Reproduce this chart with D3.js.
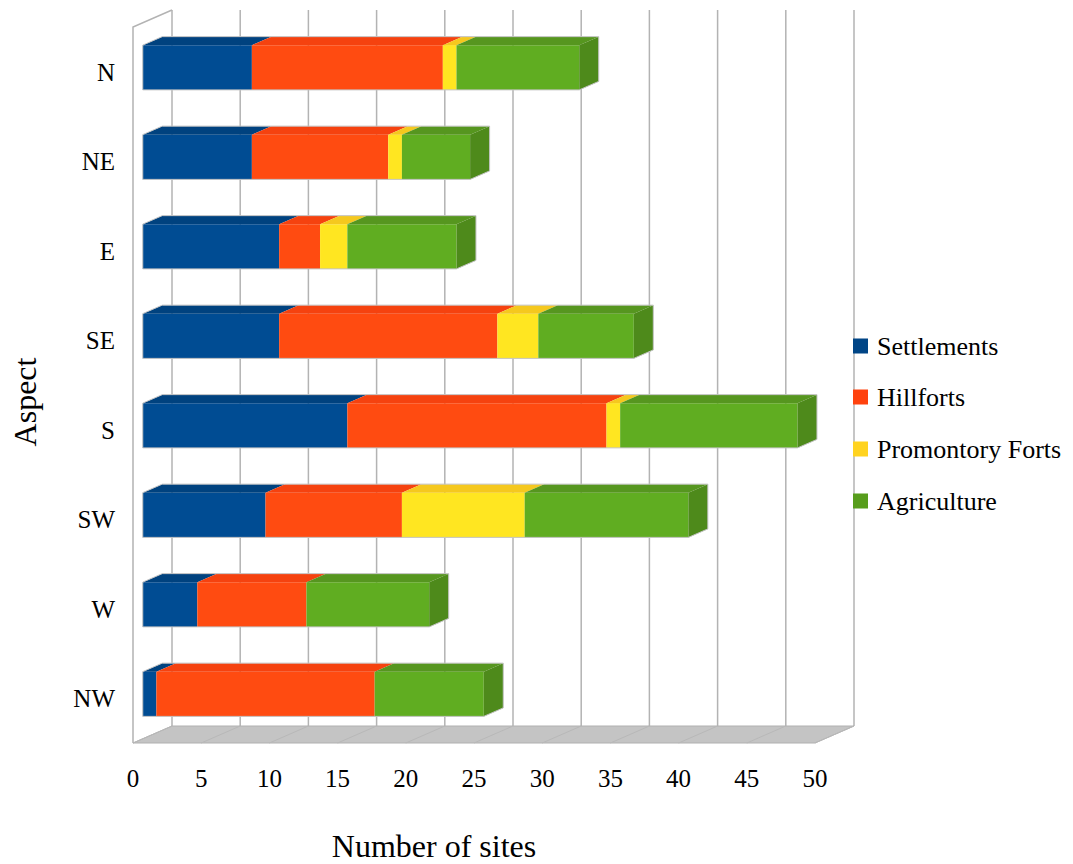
<!DOCTYPE html>
<html>
<head>
<meta charset="utf-8">
<script src="https://cdn.jsdelivr.net/npm/d3@7"></script>
<style>
  html, body { margin: 0; padding: 0; background: #ffffff; }
  svg { display: block; }
  svg text { font-family: 'Liberation Serif', 'Times New Roman', Times, 'DejaVu Serif', serif; }
</style>
</head>
<body>
<svg id="chart" width="1073" height="864"></svg>
<script>
// Sites per aspect, stacked by site type
const categories = ["N", "NE", "E", "SE", "S", "SW", "W", "NW"];
const seriesNames = ["Settlements", "Hillforts", "Promontory Forts", "Agriculture"];
const settlements = [8, 8, 10, 10, 15, 9, 4, 1];
const hillforts   = [14, 10, 3, 16, 19, 10, 8, 16];
const promontory  = [1, 1, 2, 3, 1, 9, 0, 0];
const agriculture = [9, 5, 8, 7, 13, 12, 9, 8];
const xTicks = [0, 5, 10, 15, 20, 25, 30, 35, 40, 45, 50];

const frontColors = ["#004c93", "#ff4b11", "#ffe621", "#60ad21"];
const topColors   = ["#00427f", "#f5420f", "#f5c81e", "#56961f"];
const sideColors  = ["#003a70", "#e03c0d", "#e0b41a", "#4e8a1b"];
const legendColors = ["#004586", "#ff420e", "#ffd320", "#579d1c"];

const FONT = "Liberation Serif, Times New Roman, serif";
const svg = d3.select("#chart");

// Front plane of the 3D box and the depth offset of its back plane
const plotLeft = 133, plotRight = 815, plotTop = 27, plotBottom = 743;
const DX = 39, DY = -17;

const x = d3.scaleLinear().domain([0, 50]).range([plotLeft, plotRight]);
const y = d3.scaleBand().domain(categories).range([plotTop, plotBottom])
  .paddingInner(0.5).paddingOuter(0.25);
const yLabel = d3.scaleBand().domain(categories).range([plotTop, plotBottom]);

// project (value, front-plane y, depth 0..1) to screen
const P = (v, yy, d) => [x(v) + d * DX, yy + d * DY];
const poly = pts => "M" + pts.map(p => p.join(",")).join("L") + "Z";

const rows = categories.map((c, i) => ({
  cat: c,
  "Settlements": settlements[i],
  "Hillforts": hillforts[i],
  "Promontory Forts": promontory[i],
  "Agriculture": agriculture[i]
}));
const stacked = d3.stack().keys(seriesNames)(rows);

const grid = "#b3b3b3";

// floor
svg.append("path")
  .attr("d", poly([P(0, plotBottom, 0), P(50, plotBottom, 0), P(50, plotBottom, 1), P(0, plotBottom, 1)]))
  .attr("fill", "#c4c4c4").attr("stroke", "#b0b0b0").attr("stroke-width", 1);

// floor grid lines
svg.append("g").selectAll("line").data(xTicks).join("line")
  .attr("x1", d => P(d, plotBottom, 0)[0]).attr("y1", d => P(d, plotBottom, 0)[1])
  .attr("x2", d => P(d, plotBottom, 1)[0]).attr("y2", d => P(d, plotBottom, 1)[1])
  .attr("stroke", "#b8b8b8").attr("stroke-width", 1);

// back wall grid lines
svg.append("g").selectAll("line").data(xTicks).join("line")
  .attr("x1", d => P(d, plotTop, 1)[0]).attr("y1", d => P(d, plotTop, 1)[1])
  .attr("x2", d => P(d, plotBottom, 1)[0]).attr("y2", d => P(d, plotBottom, 1)[1])
  .attr("stroke", grid).attr("stroke-width", 1.5);

// left side wall outline
svg.append("path")
  .attr("d", "M" + P(0, plotBottom, 0).join(",") + "L" + P(0, plotTop, 0).join(",") + "L" + P(0, plotTop, 1).join(","))
  .attr("fill", "none").attr("stroke", grid).attr("stroke-width", 1.5);

// bars
const d0 = 0.25, d1 = 0.75;
const barsG = svg.append("g");
categories.forEach((c, i) => {
  const yt = y(c), yb = y(c) + y.bandwidth();
  const g = barsG.append("g");
  let lastIdx = -1, total = 0;
  stacked.forEach((s, k) => {
    const v0 = s[i][0], v1 = s[i][1];
    if (v1 - v0 <= 0) return;
    lastIdx = k; total = v1;
    // front face
    g.append("path")
      .attr("d", poly([P(v0, yt, d0), P(v1, yt, d0), P(v1, yb, d0), P(v0, yb, d0)]))
      .attr("fill", frontColors[k]);
    // top face
    g.append("path")
      .attr("d", poly([P(v0, yt, d0), P(v1, yt, d0), P(v1, yt, d1), P(v0, yt, d1)]))
      .attr("fill", topColors[k]);
  });
  if (lastIdx >= 0) {
    g.append("path")
      .attr("d", poly([P(total, yt, d0), P(total, yt, d1), P(total, yb, d1), P(total, yb, d0)]))
      .attr("fill", sideColors[lastIdx]);
    // outline of the whole bar
    g.append("path")
      .attr("d", poly([P(0, yb, d0), P(0, yt, d0), P(0, yt, d1), P(total, yt, d1),
                       P(total, yb, d1), P(total, yb, d0)]))
      .attr("fill", "none").attr("stroke", "#c4c4c4").attr("stroke-width", 1);
  }
});

// category labels
svg.append("g").selectAll("text").data(categories).join("text")
  .attr("x", 115)
  .attr("y", d => yLabel(d) + yLabel.bandwidth() / 2 + 9)
  .attr("text-anchor", "end")
  .attr("font-family", FONT)
  .attr("font-size", 25).attr("fill", "#000")
  .text(d => d);

// value tick labels
svg.append("g").selectAll("text").data(xTicks).join("text")
  .attr("x", d => x(d))
  .attr("y", 787)
  .attr("text-anchor", "middle")
  .attr("font-family", FONT)
  .attr("font-size", 25).attr("fill", "#000")
  .text(d => d);

// axis titles
svg.append("text")
  .attr("x", 434).attr("y", 857)
  .attr("text-anchor", "middle")
  .attr("font-family", FONT)
  .attr("font-size", 32).attr("fill", "#000")
  .text("Number of sites");

svg.append("text")
  .attr("transform", "translate(36,402) rotate(-90)")
  .attr("text-anchor", "middle")
  .attr("font-family", FONT)
  .attr("font-size", 32).attr("fill", "#000")
  .text("Aspect");

// legend
const legend = svg.append("g").attr("transform", "translate(853,0)");
const legendY = [346, 397, 449, 501];
seriesNames.forEach((name, k) => {
  legend.append("rect")
    .attr("x", 0).attr("y", legendY[k] - 7.5)
    .attr("width", 15).attr("height", 15)
    .attr("fill", legendColors[k]);
  legend.append("text")
    .attr("x", 24).attr("y", legendY[k] + 9)
    .attr("font-family", FONT)
    .attr("font-size", 26).attr("fill", "#000")
    .text(name);
});
</script>
</body>
</html>
